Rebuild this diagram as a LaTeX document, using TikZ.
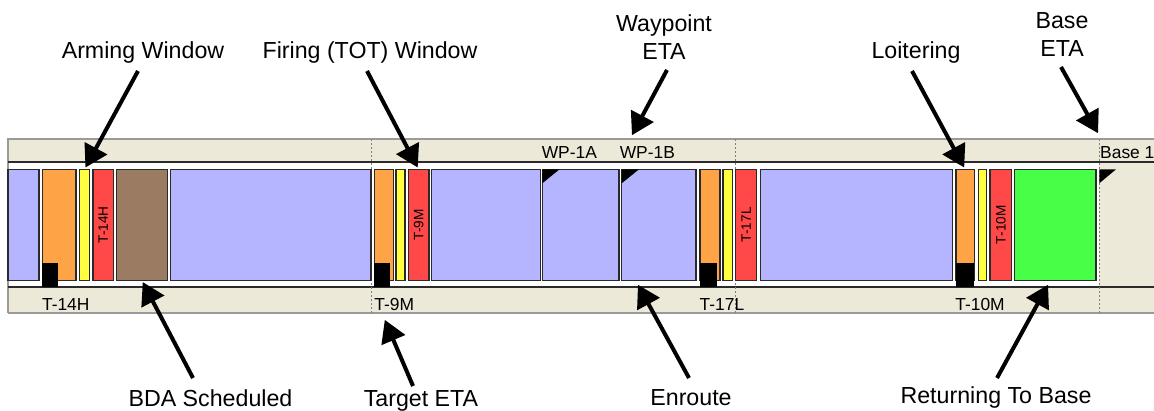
\documentclass[tikz,border=0pt]{standalone}
\usepackage{fontspec}
\setmainfont{Liberation Sans}
\usetikzlibrary{arrows.meta,positioning}
\definecolor{tlblue}{HTML}{B4B4FF}
\definecolor{tlorange}{HTML}{FFA347}
\definecolor{tlyellow}{HTML}{FFFF40}
\definecolor{tlred}{HTML}{FF4848}
\definecolor{tlbrown}{HTML}{9B7B62}
\definecolor{tlgreen}{HTML}{48FF48}
\definecolor{tlbeige}{HTML}{ECE9D8}
\definecolor{tlline}{HTML}{2A2A2A}
\definecolor{tlrule}{HTML}{9A9A9A}

\begin{document}
\begin{tikzpicture}[x=0.5pt, y=-0.5pt,
    seg/.style={rectangle, draw=tlline, line width=0.7pt, minimum height=55.5pt, inner sep=0pt, outer sep=0pt},
    vlabel/.style={rotate=90, inner sep=0pt, font=\fontsize{6.8}{8}\selectfont},
    callout/.style={inner sep=0pt, align=center, font=\fontsize{11.6}{14}\selectfont},
    tick/.style={inner sep=0pt, font=\fontsize{8.7}{10}\selectfont},
    pointer/.style={-{Triangle[length=11pt, width=12.5pt]}, line width=2pt, shorten >=1pt},
    divider/.style={draw=gray, line width=0.5pt, dash pattern=on 1pt off 1pt}]
      \useasboundingbox (0,0) rectangle (1154,411);

      % Timeline band
      \fill[tlbeige] (8,139) rectangle (1154,313);
      \fill[white] (8,162.3) rectangle (1099.3,286.7);
      \draw[tlrule, line width=0.8pt] (8,313) -- (8,139) -- (1154,139);
      \draw[tlrule, line width=0.8pt] (8,313) -- (1154,313);
      \draw[tlline, line width=0.8pt] (8,162.3) -- (1154,162.3);
      \draw[tlline, line width=0.8pt] (8,286.7) -- (1154,286.7);

      % Time dividers
      \draw[divider] (371,139) -- (371,313);
      \draw[divider] (735.7,139) -- (735.7,313);
      \draw[divider] (1099.3,139) -- (1099.3,313);

      % First leg
      \node[seg, fill=tlblue, minimum width=15.5pt] (blueA) at (23.5,224.8) {};
      \node[seg, fill=tlorange, minimum width=16.65pt] (orangeA) at (59.35,224.8) {};
      \node[seg, fill=tlyellow, minimum width=5.2pt] (yellowA) at (84.5,224.8) {};
      \node[seg, fill=tlred, minimum width=10.15pt] (redA) at (103.15,224.8) {};
      \node[seg, fill=tlbrown, minimum width=25.5pt] (bda) at (141.8,224.8) {};
      \node[seg, fill=tlblue, minimum width=100.35pt] (blueB) at (270.65,224.8) {};

      % Target
      \node[seg, fill=tlorange, minimum width=9.5pt] (orangeB) at (383.8,224.8) {};
      \node[seg, fill=tlyellow, minimum width=4.5pt] (yellowB) at (400.5,224.8) {};
      \node[seg, fill=tlred, minimum width=10.35pt] (redB) at (418.65,224.8) {};
      \node[seg, fill=tlblue, minimum width=54.3pt] (blueC) at (486,224.8) {};

      % Waypoints
      \node[seg, fill=tlblue, minimum width=38.35pt] (blueD) at (580.65,224.8) {};
      \node[seg, fill=tlblue, minimum width=37.15pt] (blueE) at (658.85,224.8) {};
      \node[seg, fill=tlorange, minimum width=10pt] (orangeC) at (710,224.8) {};
      \node[seg, fill=tlyellow, minimum width=4.65pt] (yellowC) at (727.65,224.8) {};
      \node[seg, fill=tlred, minimum width=10.5pt] (redC) at (746.2,224.8) {};
      \node[seg, fill=tlblue, minimum width=96pt] (blueF) at (856.3,224.8) {};

      % Loiter and return
      \node[seg, fill=tlorange, minimum width=9.15pt] (orangeD) at (965.15,224.8) {};
      \node[seg, fill=tlyellow, minimum width=4.2pt] (yellowD) at (982.5,224.8) {};
      \node[seg, fill=tlred, minimum width=10.85pt] (redD) at (1000.85,224.8) {};
      \node[seg, fill=tlgreen, minimum width=40.65pt] (rtb) at (1055.35,224.8) {};

      % Arming markers and waypoint flags
      \fill (42,263) rectangle (58,287);
      \fill (374,263) rectangle (390,287);
      \fill (700,263) rectangle (717,287);
      \fill (956,263) rectangle (974,287);
      \fill (542.3,169.3) -- (559.5,169.3) -- (542.3,183.3) -- cycle;
      \fill (621.7,169.3) -- (639,169.3) -- (621.7,183.3) -- cycle;
      \fill (1099.3,169.3) -- (1116,169.3) -- (1099.3,183.3) -- cycle;

      % Segment labels
      \node[vlabel] (redAtxt) at (redA) {T-14H};
      \node[vlabel] (redBtxt) at (redB) {T-9M};
      \node[vlabel] (redCtxt) at (redC) {T-17L};
      \node[vlabel] (redDtxt) at (redD) {T-10M};

      % Time marks
      \node[tick, anchor=base west] (t14h) at (41.7,310) {T-14H};
      \node[tick, anchor=base west] (t9m) at (374,310) {T-9M};
      \node[tick, anchor=base west] (t17l) at (699.3,310) {T-17L};
      \node[tick, anchor=base west] (t10m) at (955,310) {T-10M};
      \node[tick, anchor=base] (wp1a) at (569.3,158.3) {WP-1A};
      \node[tick, anchor=base] (wp1b) at (647.3,158.3) {WP-1B};
      \node[tick, anchor=base west] (base1) at (1099.8,158.3) {Base 1};

      % Callouts
      \node[callout, anchor=base] (armLbl) at (143,58.3) {Arming Window};
      \node[callout, anchor=base] (fireLbl) at (370,58.3) {Firing (TOT) Window};
      \node[callout] (wpLbl) at (664,37.5) {Waypoint\\ETA};
      \node[callout, anchor=base] (loitLbl) at (916,58.3) {Loitering};
      \node[callout] (baseLbl) at (1062,35) {Base\\ETA};
      \node[callout, anchor=base] (bdaLbl) at (210.5,406.5) {BDA Scheduled};
      \node[callout, anchor=base] (tgtLbl) at (421,406.5) {Target ETA};
      \node[callout, anchor=base] (enrLbl) at (691,405) {Enroute};
      \node[callout, anchor=base] (retLbl) at (996,403.5) {Returning To Base};

      % Arrow ends
      \coordinate (armTail) at (138,71);
      \coordinate (fireTail) at (367,71);
      \coordinate (wpTail) at (667,70);
      \coordinate (wpTip) at (631,137);
      \coordinate (loitTail) at (912,71);
      \coordinate (baseTail) at (1061,67);
      \coordinate (baseTip) at (1099,135);
      \coordinate (bdaTail) at (193,378);
      \coordinate (tgtTail) at (413,386);
      \coordinate (tgtTip) at (384,318);
      \coordinate (enrTail) at (689,378);
      \coordinate (enrTip) at (637,283);
      \coordinate (retTail) at (997,378);
      \coordinate (retTip) at (1049,283);

      % Arrows
      \draw[pointer] (armTail) -- (yellowA.north);
      \draw[pointer] (fireTail) -- (redB.north);
      \draw[pointer] (wpTail) -- (wpTip);
      \draw[pointer] (loitTail) -- (orangeD.north);
      \draw[pointer] (baseTail) -- (baseTip);
      \draw[pointer] (bdaTail) -- (bda.south);
      \draw[pointer] (tgtTail) -- (tgtTip);
      \draw[pointer] (enrTail) -- (enrTip);
      \draw[pointer] (retTail) -- (retTip);
    \end{tikzpicture}
\end{document}
